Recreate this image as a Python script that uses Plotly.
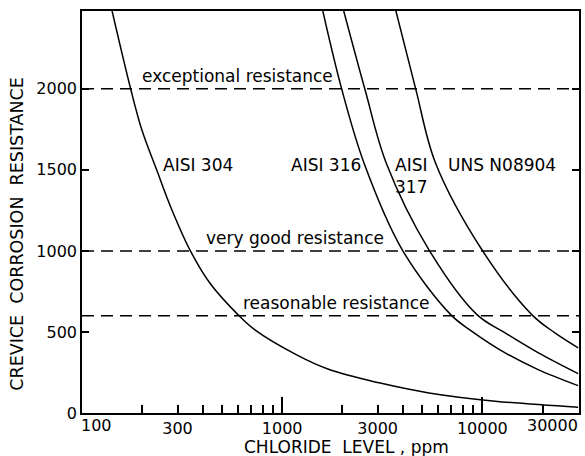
import numpy as np
import plotly.graph_objects as go

# ---- data ----
aisi304_x = [141, 175, 199, 236, 281, 348, 435, 601, 728, 1175, 1718, 3050, 5410, 11600, 30100]
aisi304_y = [2486, 2000, 1747, 1500, 1254, 1000, 802, 607, 514, 360, 268, 186, 124, 73, 36]

aisi316_x = [1592, 1982, 2566, 3980, 6950, 8870, 13000, 19000, 30100]
aisi316_y = [2486, 2000, 1541, 1007, 607, 504, 371, 268, 169]

aisi317_x = [2024, 2587, 3313, 5410, 9400, 13000, 19060, 30100]
aisi317_y = [2486, 2000, 1541, 1007, 607, 494, 371, 243]

n08904_x = [3690, 4645, 5840, 9950, 17660, 23050, 30100]
n08904_y = [2486, 2000, 1541, 1007, 607, 494, 402]

levels = [2000, 1000, 600]
level_labels = ["exceptional resistance", "very good resistance", "reasonable resistance"]
level_label_x = [600, 1159, 1875]

curve_labels = ["AISI 304", "AISI 316", "AISI<br>317", "UNS N08904"]
curve_label_x = [379, 1656, 4425, 12480]
curve_label_y = 1530

x_tick_vals = [200, 300, 400, 500, 600, 700, 800, 900, 1000,
               2000, 3000, 4000, 5000, 6000, 7000, 8000, 9000, 10000, 20000]
x_tick_text = ["", "300", "", "", "", "", "", "", "1000",
               "", "3000", "", "", "", "", "", "", "10000", ""]
x_major_vals = [1000, 10000]
y_tick_vals = [0, 500, 1000, 1500, 2000]

X_MIN, X_MAX = 100, 30400
Y_MAX = 2480

FONT = "DejaVu Sans"
TICK_SIZE = 16
fig = go.Figure()

line_style = dict(color="black", width=1.5, shape="spline", smoothing=1.0)
for xs, ys, name in [(aisi304_x, aisi304_y, "AISI 304"),
                     (aisi316_x, aisi316_y, "AISI 316"),
                     (aisi317_x, aisi317_y, "AISI 317"),
                     (n08904_x, n08904_y, "UNS N08904")]:
    fig.add_trace(go.Scatter(x=xs, y=ys, mode="lines", line=line_style,
                             name=name, showlegend=False, hoverinfo="skip"))

for lv in levels:
    fig.add_trace(go.Scatter(x=[X_MIN, X_MAX], y=[lv, lv], mode="lines",
                             line=dict(color="black", width=1.5, dash="12px,7px"),
                             showlegend=False, hoverinfo="skip"))

# invisible trace on overlay axis that only carries the long decade ticks
fig.add_trace(go.Scatter(x=[X_MIN, X_MAX], y=[0, 0], xaxis="x2", mode="lines",
                         line=dict(width=0), showlegend=False, hoverinfo="skip"))

lg = np.log10
rng = [lg(X_MIN), lg(X_MAX)]
fig.update_layout(
    width=585, height=456,
    margin=dict(l=82, r=4, t=11, b=43),
    paper_bgcolor="white", plot_bgcolor="white",
    font=dict(family=FONT, color="black", size=17),
    xaxis=dict(type="log", range=rng,
               showgrid=False, zeroline=False,
               showline=True, linecolor="black", linewidth=1.5, mirror=True,
               tickmode="array", tickvals=x_tick_vals, ticktext=x_tick_text,
               ticks="inside", ticklen=8, tickwidth=1.5, tickcolor="black",
               tickfont=dict(size=TICK_SIZE)),
    xaxis2=dict(type="log", range=rng, overlaying="x",
                anchor="y", side="bottom", showgrid=False, zeroline=False,
                showline=False, tickmode="array", tickvals=x_major_vals,
                ticks="inside", ticklen=16, tickwidth=1.5, tickcolor="black",
                showticklabels=False),
    yaxis=dict(range=[0, Y_MAX], showgrid=False, zeroline=False,
               showline=True, linecolor="black", linewidth=1.5, mirror="ticks",
               tickmode="array", tickvals=y_tick_vals,
               ticks="inside", ticklen=7, tickwidth=1.5, tickcolor="black",
               tickfont=dict(size=TICK_SIZE)),
)

ann = []
# edge tick labels
ann.append(dict(x=lg(100), y=0, xref="x", yref="paper", text="100", showarrow=False,
                xanchor="left", yanchor="top", yshift=-1, xshift=-3,
                font=dict(size=TICK_SIZE)))
ann.append(dict(x=lg(30000), y=0, xref="x", yref="paper", text="30000", showarrow=False,
                xanchor="right", yanchor="top", yshift=-1, xshift=2,
                font=dict(size=TICK_SIZE)))
# axis titles
ann.append(dict(x=0, y=0.446, xref="paper", yref="paper", text="CREVICE  CORROSION  RESISTANCE",
                textangle=-90, showarrow=False, xanchor="center", yanchor="middle",
                xshift=-65, font=dict(size=17.5)))
ann.append(dict(x=0.532, y=0, xref="paper", yref="paper", text="CHLORIDE  LEVEL , ppm",
                showarrow=False, xanchor="center", yanchor="middle", yshift=-34,
                font=dict(size=17)))
# level labels
for lv, lab, lx in zip(levels, level_labels, level_label_x):
    ann.append(dict(x=lg(lx), y=lv, xref="x", yref="y",
                    text=lab, showarrow=False, xanchor="center", yanchor="bottom",
                    yshift=1))
# curve labels
for txt, lx in zip(curve_labels, curve_label_x):
    two = "<br>" in txt
    ann.append(dict(x=lg(lx), y=curve_label_y, xref="x", yref="y", text=txt,
                    showarrow=False, xanchor="center",
                    yanchor="top" if two else "middle",
                    yshift=12 if two else 0))
fig.update_layout(annotations=ann)

fig.write_html("out.html")
